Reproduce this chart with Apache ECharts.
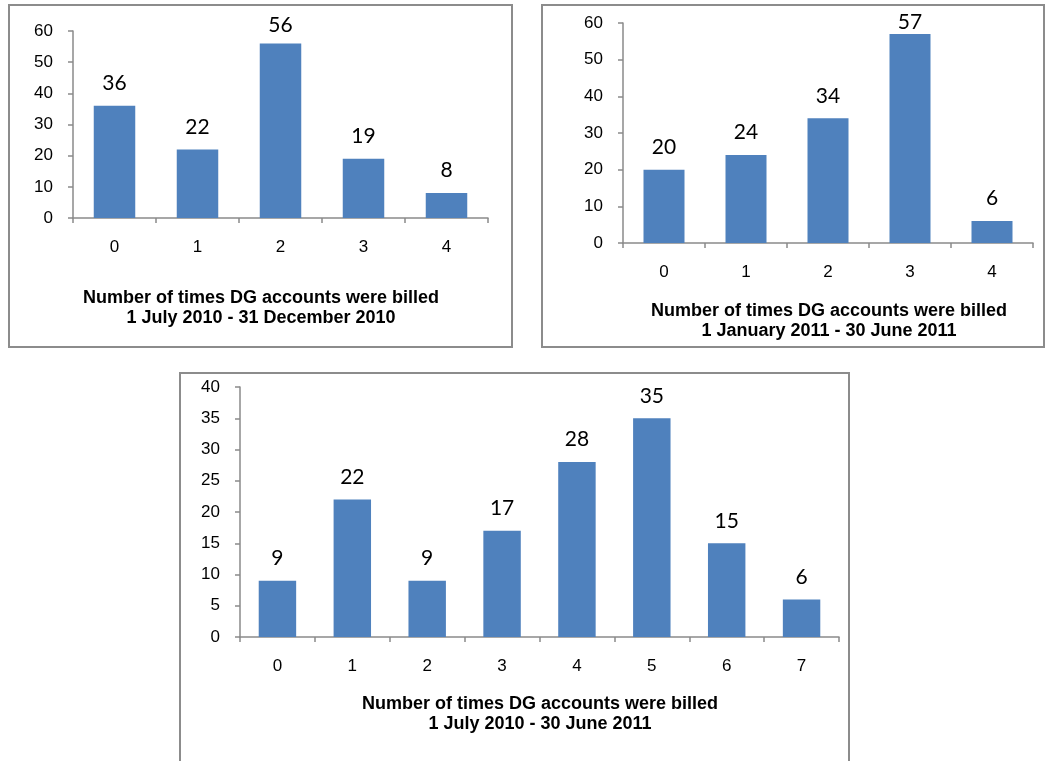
<!DOCTYPE html>
<html>
<head>
<meta charset="utf-8">
<script src="https://cdn.jsdelivr.net/npm/echarts@6/dist/echarts.min.js"></script>
<style>
  html, body { margin: 0; padding: 0; background: #fff; }
  #chart { width: 1046px; height: 761px; }
</style>
</head>
<body>
<div id="chart"></div>
<script>
// Billing counts per period
const categoriesH2_2010 = ['0', '1', '2', '3', '4'];
const valuesH2_2010 = [36, 22, 56, 19, 8];

const categoriesH1_2011 = ['0', '1', '2', '3', '4'];
const valuesH1_2011 = [20, 24, 34, 57, 6];

const categoriesFY = ['0', '1', '2', '3', '4', '5', '6', '7'];
const valuesFY = [9, 22, 9, 17, 28, 35, 15, 6];

const axisTitle = 'Number of times DG accounts were billed';
const periodH2_2010 = '1 July 2010 - 31 December 2010';
const periodH1_2011 = '1 January 2011 - 30 June 2011';
const periodFY = '1 July 2010 - 30 June 2011';

const yTicksSmall = { min: 0, max: 60, interval: 10 };
const yTicksFY = { min: 0, max: 40, interval: 5 };

// Layout of each panel: plot box, frame and caption position
const panels = [
  { cats: categoriesH2_2010, vals: valuesH2_2010, period: periodH2_2010, y: yTicksSmall,
    grid: { left: 73, top: 31, width: 415, height: 187 },
    frame: { x: 9, y: 5, w: 503, h: 342 },
    caption: { x: 261, y: 288 },
    tightLabels: { 2: 8 } },
  { cats: categoriesH1_2011, vals: valuesH1_2011, period: periodH1_2011, y: yTicksSmall,
    grid: { left: 623, top: 23, width: 410, height: 220 },
    frame: { x: 542, y: 5, w: 502, h: 342 },
    caption: { x: 829, y: 301 },
    tightLabels: { 3: 1 } },
  { cats: categoriesFY, vals: valuesFY, period: periodFY, y: yTicksFY,
    grid: { left: 240, top: 387, width: 599, height: 250 },
    frame: { x: 180, y: 373, w: 669, h: 420 },
    caption: { x: 540, y: 694 },
    tightLabels: {} }
];

const BAR = '#4F81BD';
const AXIS = '#8A8A8A';
const FRAME = '#8C8C8C';

const chart = echarts.init(document.getElementById('chart'), null, { renderer: 'canvas' });

const option = {
  backgroundColor: '#ffffff',
  animation: false,
  grid: panels.map(p => Object.assign({ containLabel: false }, p.grid)),
  xAxis: panels.map((p, i) => ({
    type: 'category',
    gridIndex: i,
    data: p.cats,
    boundaryGap: true,
    axisLine: { show: true, lineStyle: { color: AXIS, width: 1.5 } },
    axisTick: { show: true, length: 5, inside: false, lineStyle: { color: AXIS, width: 1.5 } },
    axisLabel: { color: '#000', fontFamily: 'Liberation Sans, Arial, sans-serif', fontSize: 17, margin: 21 },
    splitLine: { show: false }
  })),
  yAxis: panels.map((p, i) => ({
    type: 'value',
    gridIndex: i,
    min: p.y.min,
    max: p.y.max,
    interval: p.y.interval,
    axisLine: { show: true, lineStyle: { color: AXIS, width: 1.5 } },
    axisTick: { show: true, length: 5, inside: false, lineStyle: { color: AXIS, width: 1.5 } },
    axisLabel: { color: '#000', fontFamily: 'Liberation Sans, Arial, sans-serif', fontSize: 17, margin: 20 },
    splitLine: { show: false }
  })),
  series: panels.map((p, i) => ({
    type: 'bar',
    xAxisIndex: i,
    yAxisIndex: i,
    barWidth: '50%',
    itemStyle: { color: BAR },
    label: {
      show: true,
      position: 'top',
      distance: 12,
      color: '#000',
      fontFamily: 'Lato, "Open Sans", sans-serif',
      fontSize: 21
    },
    data: p.vals.map((v, k) => (k in p.tightLabels)
      ? { value: v, label: { distance: p.tightLabels[k] } }
      : v)
  })),
  graphic: panels.flatMap(p => [
    {
      type: 'rect',
      shape: { x: p.frame.x, y: p.frame.y, width: p.frame.w, height: p.frame.h },
      style: { fill: 'none', stroke: FRAME, lineWidth: 2 },
      silent: true
    },
    {
      type: 'text',
      x: p.caption.x,
      y: p.caption.y,
      style: {
        text: axisTitle + '\n' + p.period,
        fill: '#000',
        font: 'bold 18px "Liberation Sans", Arial, sans-serif',
        lineHeight: 20,
        align: 'center',
        verticalAlign: 'top'
      },
      silent: true
    }
  ])
};

chart.setOption(option);
</script>
</body>
</html>
